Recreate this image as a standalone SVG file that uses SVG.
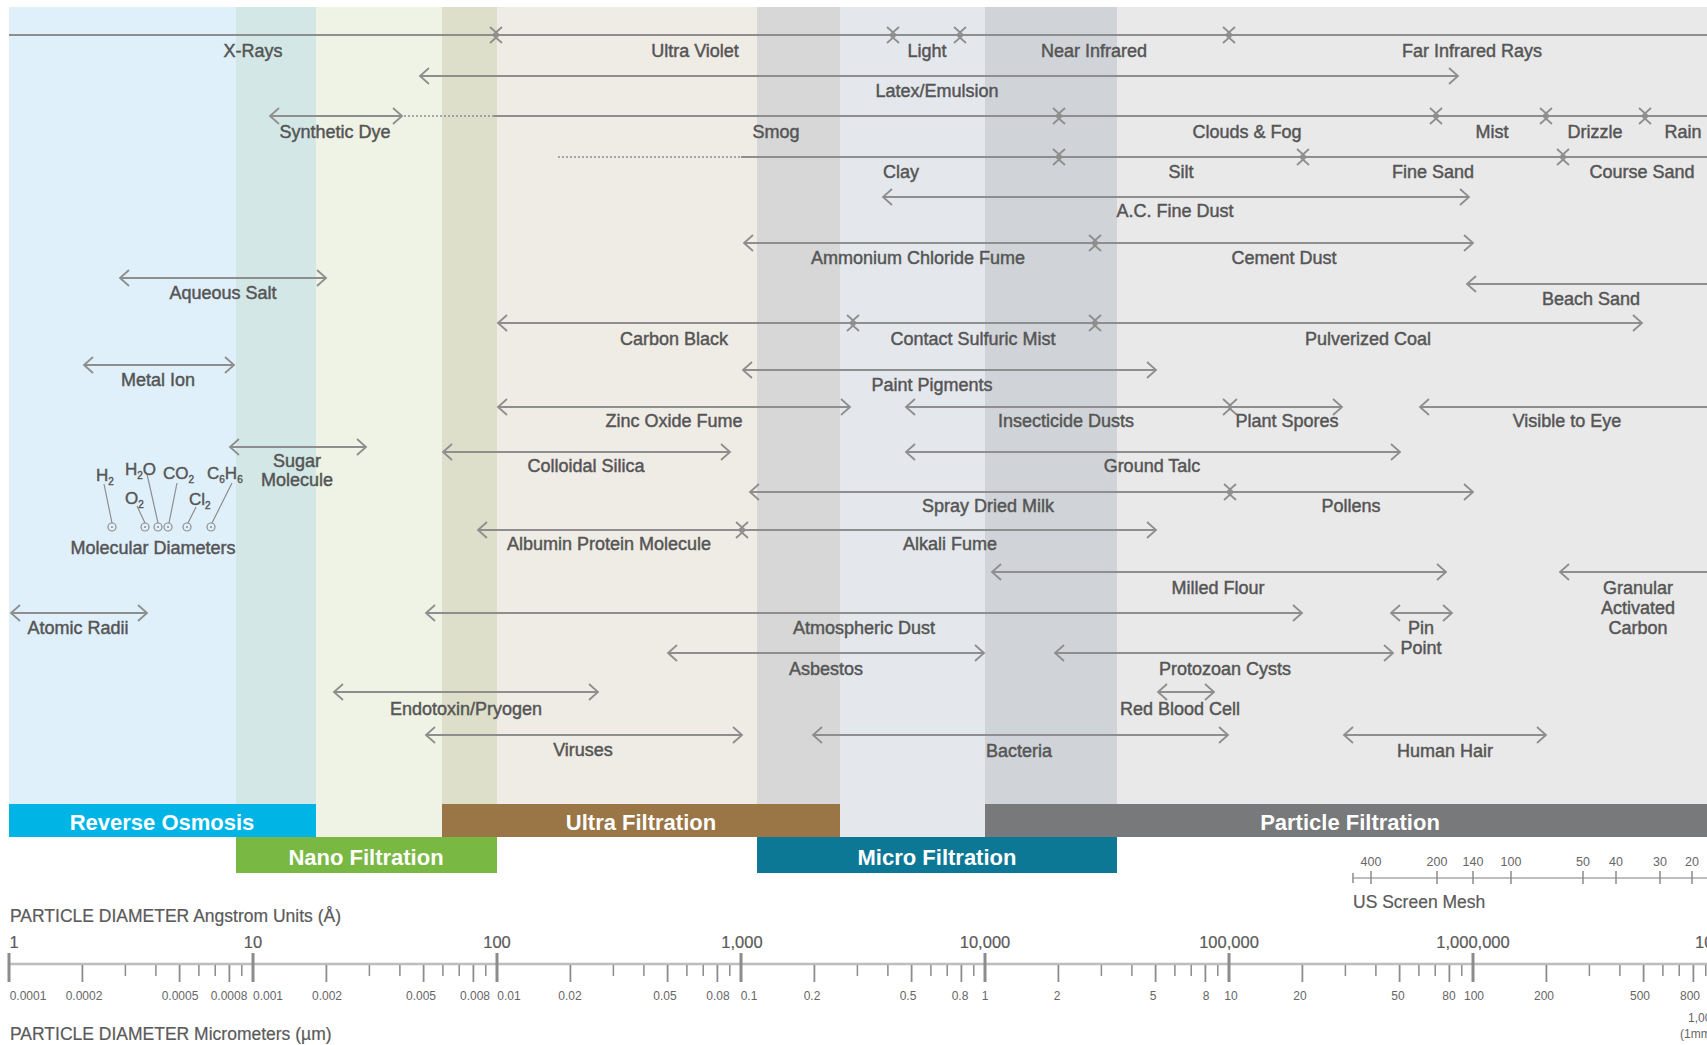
<svg xmlns="http://www.w3.org/2000/svg" width="1707" height="1045" viewBox="0 0 1707 1045">
<style>
.c{stroke:#8e8e8e;stroke-width:1.8;fill:none;marker-start:url(#ah);marker-end:url(#ah)}
.ns{marker-start:none}
.ne{marker-end:none}
.d{stroke:#8e8e8e;stroke-width:1.6;stroke-dasharray:2 2;fill:none}
.t{font-family:"Liberation Sans",Arial,sans-serif;font-size:18px;fill:#555555;stroke:#555555;stroke-width:0.45;text-anchor:middle}
.b{font-family:"Liberation Sans",Arial,sans-serif;font-size:22px;font-weight:bold;fill:#ffffff;text-anchor:middle}
.ax{font-family:"Liberation Sans",Arial,sans-serif;font-size:17.5px;fill:#5a5a5a;stroke:#5a5a5a;stroke-width:0.2}
.an{font-family:"Liberation Sans",Arial,sans-serif;font-size:16.5px;fill:#5a5a5a;stroke:#5a5a5a;stroke-width:0.2;text-anchor:middle}
.um{font-family:"Liberation Sans",Arial,sans-serif;font-size:12px;fill:#666;text-anchor:middle}
.st{text-anchor:start}
.ms{font-family:"Liberation Sans",Arial,sans-serif;font-size:12.5px;fill:#666;text-anchor:middle}
.mol{font-family:"Liberation Sans",Arial,sans-serif;font-size:17px;fill:#555555;stroke:#555555;stroke-width:0.4}
.sub{font-size:10px}
.tk{stroke:#8c8c8c;fill:none}
.lead{stroke:#8e8e8e;stroke-width:1.2;fill:none}
.dot{fill:none;stroke:#8e8e8e;stroke-width:1.2}
</style>
<defs>
<marker id="ah" viewBox="-10 -9 12 18" refX="0" refY="0" markerWidth="12" markerHeight="18" markerUnits="userSpaceOnUse" orient="auto-start-reverse" overflow="visible">
<path d="M-9,-8 L0,0 L-9,8" fill="none" stroke="#8e8e8e" stroke-width="1.8"/>
</marker>
</defs>
<rect width="1707" height="1045" fill="#ffffff"/>
<g id="bands">
<rect x="9" y="7" width="227" height="830" fill="#dff0fa"/>
<rect x="236" y="7" width="80" height="830" fill="#d3e8e6"/>
<rect x="316" y="7" width="126" height="830" fill="#eff3e6"/>
<rect x="442" y="7" width="55" height="830" fill="#dddfca"/>
<rect x="497" y="7" width="260" height="830" fill="#efebe5"/>
<rect x="757" y="7" width="83" height="830" fill="#d7d7d7"/>
<rect x="840" y="7" width="145" height="830" fill="#e4e8ec"/>
<rect x="985" y="7" width="132" height="830" fill="#d0d3d7"/>
<rect x="1117" y="7" width="590" height="830" fill="#e9e9e9"/>
</g>
<g id="bars">
<g id="reverse-osmosis"><rect x="9" y="804" width="307" height="33" fill="#00b5e6"/><text class="b" x="162" y="830">Reverse Osmosis</text></g>
<g id="nano-filtration"><rect x="236" y="837" width="261" height="36" fill="#78b843"/><text class="b" x="366" y="865">Nano Filtration</text></g>
<g id="ultra-filtration"><rect x="442" y="804" width="398" height="33" fill="#9a7546"/><text class="b" x="641" y="830">Ultra Filtration</text></g>
<g id="micro-filtration"><rect x="757" y="837" width="360" height="36" fill="#0c7896"/><text class="b" x="937" y="865">Micro Filtration</text></g>
<g id="particle-filtration"><rect x="985" y="804" width="722" height="33" fill="#77797b"/><text class="b" x="1350" y="830">Particle Filtration</text></g>
</g>
<g id="connectors">
<line class="c ns" x1="9" y1="35" x2="499" y2="35"/>
<line class="c" x1="493" y1="35" x2="896" y2="35"/>
<line class="c" x1="890" y1="35" x2="963" y2="35"/>
<line class="c" x1="957" y1="35" x2="1232" y2="35"/>
<line class="c ne" x1="1226" y1="35" x2="1707" y2="35"/>
<line class="c" x1="420" y1="76" x2="1458" y2="76"/>
<line class="c" x1="270" y1="116" x2="402" y2="116"/>
<line class="d" x1="404" y1="116" x2="494" y2="116"/>
<line class="c ns" x1="494" y1="116" x2="1062" y2="116"/>
<line class="c" x1="1056" y1="116" x2="1439" y2="116"/>
<line class="c" x1="1433" y1="116" x2="1549" y2="116"/>
<line class="c" x1="1543" y1="116" x2="1648" y2="116"/>
<line class="c ne" x1="1642" y1="116" x2="1707" y2="116"/>
<line class="d" x1="558" y1="157" x2="741" y2="157"/>
<line class="c ns" x1="741" y1="157" x2="1062" y2="157"/>
<line class="c" x1="1056" y1="157" x2="1306" y2="157"/>
<line class="c" x1="1300" y1="157" x2="1566" y2="157"/>
<line class="c ne" x1="1560" y1="157" x2="1707" y2="157"/>
<line class="c" x1="883" y1="197" x2="1469" y2="197"/>
<line class="c" x1="744" y1="243" x2="1098" y2="243"/>
<line class="c" x1="1092" y1="243" x2="1473" y2="243"/>
<line class="c" x1="120" y1="278" x2="326" y2="278"/>
<line class="c ne" x1="1467" y1="284" x2="1707" y2="284"/>
<line class="c" x1="498" y1="323" x2="856" y2="323"/>
<line class="c" x1="850" y1="323" x2="1098" y2="323"/>
<line class="c" x1="1092" y1="323" x2="1642" y2="323"/>
<line class="c" x1="84" y1="365" x2="234" y2="365"/>
<line class="c" x1="743" y1="370" x2="1156" y2="370"/>
<line class="c" x1="498" y1="407" x2="850" y2="407"/>
<line class="c" x1="906" y1="407" x2="1232" y2="407"/>
<line class="c" x1="1228" y1="407" x2="1342" y2="407"/>
<line class="c ne" x1="1420" y1="407" x2="1707" y2="407"/>
<line class="c" x1="230" y1="447" x2="366" y2="447"/>
<line class="c" x1="443" y1="452" x2="730" y2="452"/>
<line class="c" x1="906" y1="452" x2="1400" y2="452"/>
<line class="c" x1="750" y1="492" x2="1233" y2="492"/>
<line class="c" x1="1227" y1="492" x2="1473" y2="492"/>
<line class="c" x1="478" y1="530" x2="745" y2="530"/>
<line class="c" x1="739" y1="530" x2="1156" y2="530"/>
<line class="c" x1="992" y1="572" x2="1446" y2="572"/>
<line class="c ne" x1="1560" y1="572" x2="1707" y2="572"/>
<line class="c" x1="11" y1="613" x2="147" y2="613"/>
<line class="c" x1="426" y1="613" x2="1302" y2="613"/>
<line class="c" x1="1391" y1="613" x2="1452" y2="613"/>
<line class="c" x1="668" y1="653" x2="984" y2="653"/>
<line class="c" x1="1055" y1="653" x2="1393" y2="653"/>
<line class="c" x1="334" y1="692" x2="598" y2="692"/>
<line class="c" x1="1158" y1="692" x2="1214" y2="692"/>
<line class="c" x1="426" y1="735" x2="742" y2="735"/>
<line class="c" x1="813" y1="735" x2="1228" y2="735"/>
<line class="c" x1="1344" y1="735" x2="1546" y2="735"/>
<path class="lead" d="M104,484 L112,523 M137,506 L145,523 M147,474 L158,523 M177,483 L169,523 M196,507 L188,523 M232,483 L212,523"/>
</g>
<g id="labels">
<g id="x-rays"><text class="t" x="253" y="57">X-Rays</text></g>
<g id="ultra-violet"><text class="t" x="695" y="57">Ultra Violet</text></g>
<g id="light"><text class="t" x="927" y="57">Light</text></g>
<g id="near-infrared"><text class="t" x="1094" y="57">Near Infrared</text></g>
<g id="far-infrared"><text class="t" x="1472" y="57">Far Infrared Rays</text></g>
<g id="latex"><text class="t" x="937" y="97">Latex/Emulsion</text></g>
<g id="synthetic-dye"><text class="t" x="335" y="138">Synthetic Dye</text></g>
<g id="smog"><text class="t" x="776" y="138">Smog</text></g>
<g id="clouds"><text class="t" x="1247" y="138">Clouds &amp; Fog</text></g>
<g id="mist"><text class="t" x="1492" y="138">Mist</text></g>
<g id="drizzle"><text class="t" x="1595" y="138">Drizzle</text></g>
<g id="rain"><text class="t" x="1683" y="138">Rain</text></g>
<g id="clay"><text class="t" x="901" y="178">Clay</text></g>
<g id="silt"><text class="t" x="1181" y="178">Silt</text></g>
<g id="fine-sand"><text class="t" x="1433" y="178">Fine Sand</text></g>
<g id="course-sand"><text class="t" x="1642" y="178">Course Sand</text></g>
<g id="ac-fine-dust"><text class="t" x="1175" y="217">A.C. Fine Dust</text></g>
<g id="ammonium"><text class="t" x="918" y="264">Ammonium Chloride Fume</text></g>
<g id="cement-dust"><text class="t" x="1284" y="264">Cement Dust</text></g>
<g id="aqueous-salt"><text class="t" x="223" y="299">Aqueous Salt</text></g>
<g id="beach-sand"><text class="t" x="1591" y="305">Beach Sand</text></g>
<g id="carbon-black"><text class="t" x="674" y="345">Carbon Black</text></g>
<g id="contact-sulfuric"><text class="t" x="973" y="345">Contact Sulfuric Mist</text></g>
<g id="pulverized-coal"><text class="t" x="1368" y="345">Pulverized Coal</text></g>
<g id="metal-ion"><text class="t" x="158" y="386">Metal Ion</text></g>
<g id="paint-pigments"><text class="t" x="932" y="391">Paint Pigments</text></g>
<g id="zinc-oxide"><text class="t" x="674" y="427">Zinc Oxide Fume</text></g>
<g id="insecticide"><text class="t" x="1066" y="427">Insecticide Dusts</text></g>
<g id="plant-spores"><text class="t" x="1287" y="427">Plant Spores</text></g>
<g id="visible"><text class="t" x="1567" y="427">Visible to Eye</text></g>
<g id="sugar"><text class="t" x="297" y="467">Sugar</text><text class="t" x="297" y="486">Molecule</text></g>
<g id="colloidal-silica"><text class="t" x="586" y="472">Colloidal Silica</text></g>
<g id="ground-talc"><text class="t" x="1152" y="472">Ground Talc</text></g>
<g id="spray-dried-milk"><text class="t" x="988" y="512">Spray Dried Milk</text></g>
<g id="pollens"><text class="t" x="1351" y="512">Pollens</text></g>
<g id="albumin"><text class="t" x="609" y="550">Albumin Protein Molecule</text></g>
<g id="alkali-fume"><text class="t" x="950" y="550">Alkali Fume</text></g>
<g id="molecular-diameters">
<text class="mol" x="96" y="481">H<tspan class="sub" dy="4">2</tspan></text>
<text class="mol" x="125" y="475">H<tspan class="sub" dy="4">2</tspan><tspan dy="-4">O</tspan></text>
<text class="mol" x="163" y="479">CO<tspan class="sub" dy="4">2</tspan></text>
<text class="mol" x="207" y="479">C<tspan class="sub" dy="4">6</tspan><tspan dy="-4">H</tspan><tspan class="sub" dy="4">6</tspan></text>
<text class="mol" x="125" y="504">O<tspan class="sub" dy="4">2</tspan></text>
<text class="mol" x="189" y="505">Cl<tspan class="sub" dy="4">2</tspan></text>
<circle class="dot" cx="112" cy="527" r="4"/><circle class="dot" cx="145" cy="527" r="4"/><circle class="dot" cx="158" cy="527" r="4"/><circle class="dot" cx="168" cy="527" r="4"/><circle class="dot" cx="187" cy="527" r="4"/><circle class="dot" cx="211" cy="527" r="4"/>
<g fill="#8e8e8e"><circle cx="112" cy="527" r="1"/><circle cx="145" cy="527" r="1"/><circle cx="158" cy="527" r="1"/><circle cx="168" cy="527" r="1"/><circle cx="187" cy="527" r="1"/><circle cx="211" cy="527" r="1"/></g>
<text class="t" x="153" y="554">Molecular Diameters</text>
</g>
<g id="milled-flour"><text class="t" x="1218" y="594">Milled Flour</text></g>
<g id="gac"><text class="t" x="1638" y="594">Granular</text><text class="t" x="1638" y="614">Activated</text><text class="t" x="1638" y="634">Carbon</text></g>
<g id="atomic-radii"><text class="t" x="78" y="634">Atomic Radii</text></g>
<g id="atmospheric-dust"><text class="t" x="864" y="634">Atmospheric Dust</text></g>
<g id="pin-point"><text class="t" x="1421" y="634">Pin</text><text class="t" x="1421" y="654">Point</text></g>
<g id="asbestos"><text class="t" x="826" y="675">Asbestos</text></g>
<g id="protozoan"><text class="t" x="1225" y="675">Protozoan Cysts</text></g>
<g id="endotoxin"><text class="t" x="466" y="715">Endotoxin/Pryogen</text></g>
<g id="red-blood-cell"><text class="t" x="1180" y="715">Red Blood Cell</text></g>
<g id="viruses"><text class="t" x="583" y="756">Viruses</text></g>
<g id="bacteria"><text class="t" x="1019" y="757">Bacteria</text></g>
<g id="human-hair"><text class="t" x="1445" y="757">Human Hair</text></g>
</g>
<g id="mesh-scale">
<line x1="1353" y1="878" x2="1707" y2="878" stroke="#a8a8a8" stroke-width="1.6"/>
<path class="tk" stroke-width="1.5" d="M1353,873V883 M1371,871V884 M1437,871V884 M1473,871V884 M1511,871V884 M1583,871V884 M1616,871V884 M1660,871V884 M1692,871V884"/>
<text class="ms" x="1371" y="866">400</text><text class="ms" x="1437" y="866">200</text><text class="ms" x="1473" y="866">140</text><text class="ms" x="1511" y="866">100</text><text class="ms" x="1583" y="866">50</text><text class="ms" x="1616" y="866">40</text><text class="ms" x="1660" y="866">30</text><text class="ms" x="1692" y="866">20</text>
<text class="ax" x="1353" y="908">US Screen Mesh</text>
</g>
<g id="diameter-axis">
<text class="ax" x="10" y="922">PARTICLE DIAMETER Angstrom Units (Å)</text>
<text class="an" x="14" y="948">1</text><text class="an" x="253" y="948">10</text><text class="an" x="497" y="948">100</text><text class="an" x="742" y="948">1,000</text><text class="an" x="985" y="948">10,000</text><text class="an" x="1229" y="948">100,000</text><text class="an" x="1473" y="948">1,000,000</text><text class="an st" x="1695" y="948">10,000,000</text>
<line x1="9" y1="964" x2="1707" y2="964" stroke="#bdbdbd" stroke-width="2.5"/>
<path class="tk" stroke-width="3" d="M9,953V982 M253,953V982 M497,953V982 M741,953V982 M985,953V982 M1229,953V982 M1473,953V982"/>
<path class="tk" stroke-width="1.8" d="M82.4,965V982 M179.6,965V982 M229.4,965V982 M326.4,965V982 M423.6,965V982 M473.4,965V982 M570.4,965V982 M667.6,965V982 M717.4,965V982 M814.4,965V982 M911.6,965V982 M961.4,965V982 M1058.4,965V982 M1155.6,965V982 M1205.4,965V982 M1302.4,965V982 M1399.6,965V982 M1449.4,965V982 M1546.4,965V982 M1643.6,965V982 M1693.4,965V982"/>
<path class="tk" stroke-width="1.5" d="M125.4,965V976 M155.9,965V976 M198.9,965V976 M215.2,965V976 M241.8,965V976 M369.4,965V976 M399.9,965V976 M442.9,965V976 M459.2,965V976 M485.8,965V976 M613.4,965V976 M643.9,965V976 M686.9,965V976 M703.2,965V976 M729.8,965V976 M857.4,965V976 M887.9,965V976 M930.9,965V976 M947.2,965V976 M973.8,965V976 M1101.4,965V976 M1131.9,965V976 M1174.9,965V976 M1191.2,965V976 M1217.8,965V976 M1345.4,965V976 M1375.9,965V976 M1418.9,965V976 M1435.2,965V976 M1461.8,965V976 M1589.4,965V976 M1619.9,965V976 M1662.9,965V976 M1679.2,965V976 M1705.8,965V976"/>
<text class="um" x="28" y="1000">0.0001</text><text class="um" x="84" y="1000">0.0002</text><text class="um" x="180" y="1000">0.0005</text><text class="um" x="229" y="1000">0.0008</text><text class="um" x="268" y="1000">0.001</text>
<text class="um" x="327" y="1000">0.002</text><text class="um" x="421" y="1000">0.005</text><text class="um" x="475" y="1000">0.008</text><text class="um" x="509" y="1000">0.01</text>
<text class="um" x="570" y="1000">0.02</text><text class="um" x="665" y="1000">0.05</text><text class="um" x="718" y="1000">0.08</text><text class="um" x="749" y="1000">0.1</text>
<text class="um" x="812" y="1000">0.2</text><text class="um" x="908" y="1000">0.5</text><text class="um" x="960" y="1000">0.8</text><text class="um" x="985" y="1000">1</text>
<text class="um" x="1057" y="1000">2</text><text class="um" x="1153" y="1000">5</text><text class="um" x="1206" y="1000">8</text><text class="um" x="1231" y="1000">10</text>
<text class="um" x="1300" y="1000">20</text><text class="um" x="1398" y="1000">50</text><text class="um" x="1449" y="1000">80</text><text class="um" x="1474" y="1000">100</text>
<text class="um" x="1544" y="1000">200</text><text class="um" x="1640" y="1000">500</text><text class="um" x="1690" y="1000">800</text>
<text class="um st" x="1688" y="1022">1,000</text><text class="um st" x="1680" y="1038">(1mm)</text>
<text class="ax" x="10" y="1040">PARTICLE DIAMETER Micrometers (µm)</text>
</g>
</svg>
